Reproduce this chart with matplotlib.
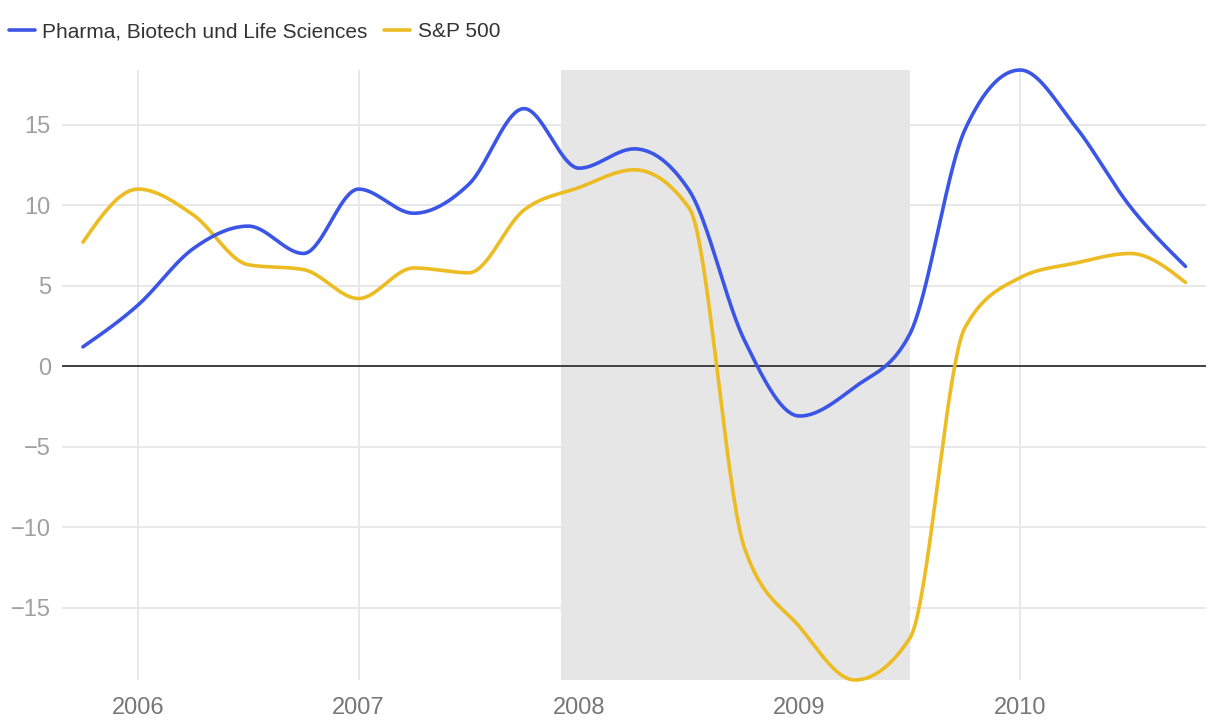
import numpy as np
import matplotlib.pyplot as plt
from matplotlib.ticker import FuncFormatter

# Quartalswerte (Veränderung ggü. Vorjahr, %)
quartale = [2005.75, 2006.0, 2006.25, 2006.5, 2006.75, 2007.0, 2007.25, 2007.5,
            2007.75, 2008.0, 2008.25, 2008.5, 2008.75, 2009.0, 2009.25, 2009.5,
            2009.75, 2010.0, 2010.25, 2010.5, 2010.75]
pharma = [1.2, 3.8, 7.3, 8.7, 7.0, 11.0, 9.5, 11.3, 16.0, 12.3, 13.5, 10.9,
          1.6, -3.1, -1.3, 2.0, 14.7, 18.4, 14.9, 9.9, 6.2]
sp500 = [7.7, 11.0, 9.4, 6.3, 6.0, 4.2, 6.1, 5.8, 9.7, 11.1, 12.2, 9.8,
         -11.3, -16.2, -19.5, -16.9, 2.4, 5.5, 6.4, 7.0, 5.2]
rezession = (2007.917, 2009.5)
jahre = [2006, 2007, 2008, 2009, 2010]
y_ticks = [-15, -10, -5, 0, 5, 10, 15]

blau = '#3b55e6'
gelb = '#ecbc22'


def monotone(x, y, n=40):
    # monotone kubische Interpolation (wie d3 curveMonotoneX)
    x = np.asarray(x, float)
    y = np.asarray(y, float)
    h = np.diff(x)
    s = np.diff(y) / h
    m = np.zeros_like(y)
    for i in range(1, len(y) - 1):
        if s[i - 1] * s[i] <= 0:
            m[i] = 0
        else:
            p = (s[i - 1] * h[i] + s[i] * h[i - 1]) / (h[i - 1] + h[i])
            m[i] = (np.sign(s[i - 1]) + np.sign(s[i])) * min(abs(s[i - 1]), abs(s[i]), 0.5 * abs(p))
    m[0] = (3 * s[0] - m[1]) / 2
    m[-1] = (3 * s[-1] - m[-2]) / 2
    xs, ys = [], []
    for i in range(len(x) - 1):
        t = np.linspace(0, 1, n, endpoint=False)
        h00 = 2 * t**3 - 3 * t**2 + 1
        h10 = t**3 - 2 * t**2 + t
        h01 = -2 * t**3 + 3 * t**2
        h11 = t**3 - t**2
        xs.append(x[i] + t * h[i])
        ys.append(h00 * y[i] + h10 * h[i] * m[i] + h01 * y[i + 1] + h11 * h[i] * m[i + 1])
    xs.append([x[-1]])
    ys.append([y[-1]])
    return np.concatenate(xs), np.concatenate(ys)


plt.rcParams['font.family'] = ['Liberation Sans', 'DejaVu Sans']

fig = plt.figure(figsize=(12.2, 7.26), dpi=100)
ax = fig.add_axes([62 / 1220, 1 - 680 / 726, (1206 - 62) / 1220, 610 / 726])

ax.axvspan(rezession[0], rezession[1], color='#e6e6e6', lw=0, zorder=0)

for j in jahre:
    ax.axvline(j, color='#e6e6e6', lw=1.3, zorder=1)
for t in y_ticks:
    if t != 0:
        ax.axhline(t, color='#e6e6e6', lw=1.3, zorder=1)
ax.axhline(0, color='#333333', lw=1.3, zorder=2)

xp, yp = monotone(quartale, pharma)
xs, ys = monotone(quartale, sp500)
ax.plot(xp, yp, color=blau, lw=2.6, solid_capstyle='round', zorder=4, clip_on=False,
        label='Pharma, Biotech und Life Sciences')
ax.plot(xs, ys, color=gelb, lw=2.6, solid_capstyle='round', zorder=3, clip_on=False,
        label='S&P 500')

ax.set_xlim(2005.655, 2010.843)
ax.set_ylim(min(sp500), max(pharma))

ax.set_xticks(jahre)
ax.set_yticks(y_ticks)
ax.yaxis.set_major_formatter(FuncFormatter(lambda v, p: f'{int(v)}'.replace('-', '\u2212')))
ax.tick_params(axis='x', length=0, labelsize=17, labelcolor='#777777', pad=12)
ax.tick_params(axis='y', length=0, labelsize=17, labelcolor='#a0a0a0', pad=8)
for sp in ax.spines.values():
    sp.set_visible(False)

fig.legend(loc='upper left', bbox_to_anchor=(9 / 1220, 1 - 22 / 726), ncol=2, frameon=False,
           fontsize=15, handlelength=1.25, handletextpad=0.35, columnspacing=0.8,
           borderpad=0, borderaxespad=0, labelcolor='#333333')

fig.savefig('out.png', dpi=100)
